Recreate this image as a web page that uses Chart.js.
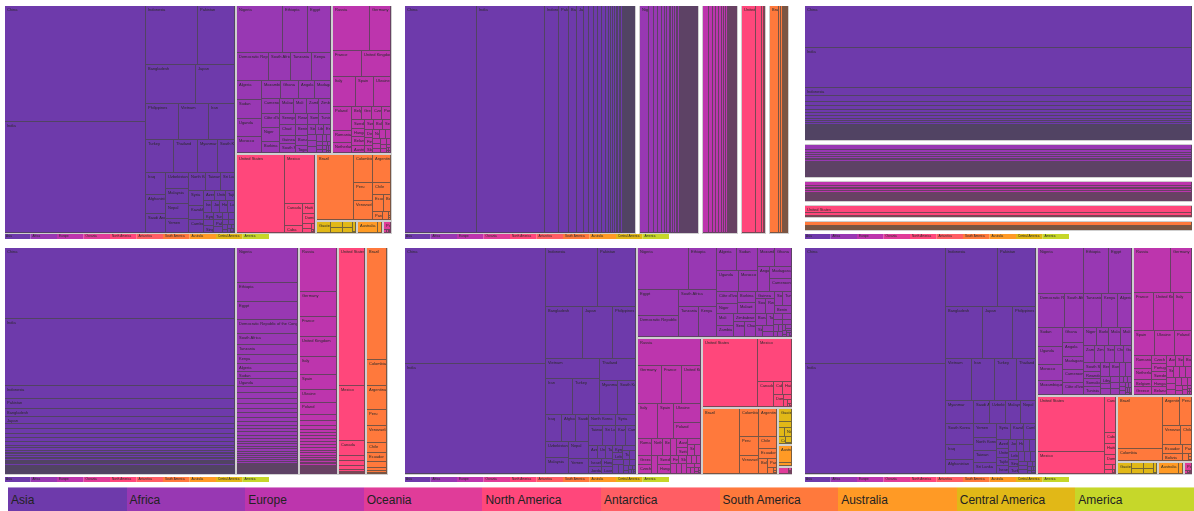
<!DOCTYPE html>
<html>
<head>
<meta charset="utf-8">
<title>Treemap tiling methods</title>
<script src="https://cdn.jsdelivr.net/npm/chart.js@4.4.1/dist/chart.umd.min.js"></script>
<style>
  body { margin: 0; background: #fff; width: 1194px; height: 511px; overflow: hidden; position: relative;
         font-family: "Liberation Sans", Arial, Helvetica, sans-serif; }
  canvas.panel { position: absolute; }
  #legend { position: absolute; left: 8px; top: 487px; width: 1186px; height: 26px; display: flex; }
  #legend div { flex: 1; font-size: 12px; line-height: 26px; padding-left: 3px; color: #222;
                box-shadow: inset 0 1px 0 rgba(255,255,255,0.45); }
</style>
</head>
<body>
<canvas id="p1" class="panel" width="387" height="235" style="left:5px;top:6px"></canvas>
<canvas id="p2" class="panel" width="387" height="235" style="left:405px;top:6px"></canvas>
<canvas id="p3" class="panel" width="387" height="235" style="left:805px;top:6px"></canvas>
<canvas id="p4" class="panel" width="386" height="236" style="left:5px;top:248px"></canvas>
<canvas id="p5" class="panel" width="387" height="236" style="left:405px;top:248px"></canvas>
<canvas id="p6" class="panel" width="387" height="236" style="left:805px;top:248px"></canvas>
<div id="legend"></div>
<script>
// continents (legend order)
const continents = ['Asia', 'Africa', 'Europe', 'Oceania', 'North America', 'Antarctica',
  'South America', 'Australia', 'Central America', 'America'];
const continentColors = ['#6e3aab', '#9838b3', '#bd35ad', '#e03c99', '#ff477b', '#ff5e64',
  '#ff793c', '#ff9a25', '#e1b817', '#c6d72a'];

// population, millions
const asiaCountries = ['China', 'India', 'Indonesia', 'Pakistan', 'Bangladesh', 'Japan', 'Philippines',
  'Vietnam', 'Iran', 'Turkey', 'Thailand', 'Myanmar', 'South Korea', 'Iraq', 'Afghanistan',
  'Saudi Arabia', 'Uzbekistan', 'Malaysia', 'Nepal', 'Yemen', 'North Korea', 'Taiwan', 'Sri Lanka',
  'Syria', 'Kazakhstan', 'Cambodia', 'Azerbaijan', 'United Arab Emirates', 'Tajikistan', 'Israel',
  'Jordan', 'Hong Kong', 'Laos', 'Kyrgyzstan', 'Lebanon', 'Singapore', 'Turkmenistan', 'Palestine',
  'Oman', 'Georgia', 'Kuwait', 'Mongolia', 'Armenia', 'Qatar', 'Bahrain', 'Timor-Leste', 'Cyprus',
  'Bhutan', 'Macau', 'Brunei', 'Maldives'];
const asiaPopulation = [1376, 1311, 258, 189, 161, 127, 101, 93, 79, 79, 68, 54, 50, 36, 33, 31, 30,
  30, 29, 27, 25, 23, 21, 19, 18, 16, 9.8, 9.2, 8.5, 8.1, 7.6, 7.3, 6.8, 6.0, 5.9, 5.6, 5.4, 4.7,
  4.5, 4.0, 3.9, 3.0, 3.0, 2.2, 1.4, 1.2, 1.2, 0.8, 0.6, 0.4, 0.4];

const africaCountries = ['Nigeria', 'Ethiopia', 'Egypt', 'Democratic Republic of the Congo',
  'South Africa', 'Tanzania', 'Kenya', 'Algeria', 'Sudan', 'Uganda', 'Morocco', 'Mozambique', 'Ghana',
  'Angola', 'Madagascar', 'Cameroon', "Côte d'Ivoire", 'Niger', 'Burkina Faso', 'Malawi', 'Mali',
  'Zambia', 'Zimbabwe', 'Senegal', 'Chad', 'Guinea', 'South Sudan', 'Rwanda', 'Somalia', 'Tunisia',
  'Benin', 'Burundi', 'Togo', 'Sierra Leone', 'Libya', 'Eritrea', 'Central African Republic', 'Congo',
  'Liberia', 'Mauritania', 'Namibia', 'Botswana', 'Lesotho', 'Gambia', 'Guinea-Bissau', 'Gabon',
  'Mauritius', 'Swaziland', 'Djibouti', 'Equatorial Guinea', 'Comoros', 'Cape Verde',
  'Sao Tome and Principe', 'Seychelles'];
const africaPopulation = [182, 99, 92, 77, 55, 53, 46, 40, 40, 39, 34, 28, 27, 25, 24, 23, 22, 20,
  18, 17, 17, 16, 15, 15, 14, 12, 12, 11, 11, 11, 11, 11, 7, 6.5, 6.3, 5.2, 4.9, 4.6, 4.5, 4.1, 2.5,
  2.3, 2.1, 2.0, 1.8, 1.7, 1.3, 1.3, 0.9, 0.85, 0.8, 0.5, 0.2, 0.1];

const europeCountries = ['Russia', 'Germany', 'France', 'United Kingdom', 'Italy', 'Spain', 'Ukraine',
  'Poland', 'Romania', 'Netherlands', 'Belgium', 'Greece', 'Czech Republic', 'Portugal', 'Sweden',
  'Hungary', 'Belarus', 'Austria', 'Switzerland', 'Bulgaria', 'Serbia', 'Denmark', 'Finland',
  'Slovakia', 'Norway', 'Ireland', 'Croatia', 'Bosnia and Herzegovina', 'Moldova', 'Albania',
  'Lithuania', 'Macedonia', 'Slovenia', 'Latvia', 'Estonia', 'Montenegro', 'Luxembourg', 'Malta',
  'Iceland'];
const europePopulation = [144, 81, 66, 65, 61, 46, 45, 38, 20, 17, 11, 11, 10.5, 10.4, 9.8, 9.8, 9.5,
  8.6, 8.3, 7.2, 7.1, 5.7, 5.5, 5.4, 5.2, 4.6, 4.2, 3.8, 3.5, 2.9, 2.9, 2.1, 2.1, 2.0, 1.3, 0.6,
  0.57, 0.43, 0.33];

const northAmericaCountries = ['United States', 'Mexico', 'Canada', 'Cuba', 'Haiti',
  'Dominican Republic', 'Puerto Rico', 'Jamaica', 'Trinidad and Tobago', 'Bahamas', 'Barbados',
  'Saint Lucia', 'Grenada'];
const northAmericaPopulation = [321, 127, 36, 11.4, 10.7, 10.5, 3.5, 2.8, 1.4, 0.39, 0.28, 0.18, 0.11];

const southAmericaCountries = ['Brazil', 'Colombia', 'Argentina', 'Peru', 'Venezuela', 'Chile',
  'Ecuador', 'Bolivia', 'Paraguay', 'Uruguay', 'Guyana', 'Suriname', 'French Guiana'];
const southAmericaPopulation = [206, 48, 43, 31, 31, 18, 16, 11, 6.6, 3.4, 0.77, 0.54, 0.27];

const centralAmericaCountries = ['Guatemala', 'Honduras', 'El Salvador', 'Nicaragua', 'Costa Rica',
  'Panama', 'Belize'];
const centralAmericaPopulation = [16.3, 8.1, 6.1, 6.1, 4.8, 3.9, 0.36];

const australiaCountries = ['Australia', 'New Zealand'];
const australiaPopulation = [23.8, 4.6];

const oceaniaCountries = ['Papua New Guinea', 'Fiji', 'Solomon Islands', 'Vanuatu', 'Samoa',
  'Kiribati', 'Tonga', 'Micronesia'];
const oceaniaPopulation = [7.6, 0.89, 0.58, 0.26, 0.19, 0.11, 0.1, 0.1];

const groupNames = ['Asia', 'Africa', 'Europe', 'North America', 'South America',
  'Central America', 'Australia', 'Oceania'];
const groupCountries = [asiaCountries, africaCountries, europeCountries, northAmericaCountries,
  southAmericaCountries, centralAmericaCountries, australiaCountries, oceaniaCountries];
const groupPopulation = [asiaPopulation, africaPopulation, europePopulation, northAmericaPopulation,
  southAmericaPopulation, centralAmericaPopulation, australiaPopulation, oceaniaPopulation];

function buildRoot() {
  const children = groupNames.map((name, i) => {
    const kids = groupCountries[i].map((c, j) => ({ name: c, value: groupPopulation[i][j] }))
      .sort((a, b) => b.value - a.value);
    return { name, children: kids, value: kids.reduce((s, k) => s + k.value, 0) };
  }).sort((a, b) => b.value - a.value);
  return { children, value: children.reduce((s, g) => s + g.value, 0) };
}

// --- tiling (same rules as d3-hierarchy) ---
function dice(node, x0, y0, x1, y1) {
  const k = node.value ? (x1 - x0) / node.value : 0;
  node.children.forEach(c => { c.y0 = y0; c.y1 = y1; c.x0 = x0; c.x1 = x0 += c.value * k; });
}
function slice(node, x0, y0, x1, y1) {
  const k = node.value ? (y1 - y0) / node.value : 0;
  node.children.forEach(c => { c.x0 = x0; c.x1 = x1; c.y0 = y0; c.y1 = y0 += c.value * k; });
}
function squarify(ratio) {
  return function (parent, x0, y0, x1, y1) {
    const nodes = parent.children, n = nodes.length;
    let i0 = 0, i1 = 0, value = parent.value;
    while (i0 < n) {
      const dx = x1 - x0, dy = y1 - y0;
      let sumValue, nodeValue;
      do sumValue = nodes[i1++].value; while (!sumValue && i1 < n);
      let minValue = sumValue, maxValue = sumValue;
      const alpha = Math.max(dy / dx, dx / dy) / (value * ratio);
      let beta = sumValue * sumValue * alpha;
      let minRatio = Math.max(maxValue / beta, beta / minValue);
      for (; i1 < n; ++i1) {
        sumValue += nodeValue = nodes[i1].value;
        if (nodeValue < minValue) minValue = nodeValue;
        if (nodeValue > maxValue) maxValue = nodeValue;
        beta = sumValue * sumValue * alpha;
        const newRatio = Math.max(maxValue / beta, beta / minValue);
        if (newRatio > minRatio) { sumValue -= nodeValue; break; }
        minRatio = newRatio;
      }
      const row = { value: sumValue, children: nodes.slice(i0, i1) };
      if (dx < dy) dice(row, x0, y0, x1, dy ? y0 += dy * sumValue / value : y1);
      else slice(row, x0, y0, dx ? x0 += dx * sumValue / value : x1, y1);
      value -= sumValue; i0 = i1;
    }
  };
}
function binary(parent, x0, y0, x1, y1) {
  const nodes = parent.children, n = nodes.length, sums = [0];
  if (!n) return;
  for (let i = 0; i < n; i++) sums.push(sums[i] + nodes[i].value);
  (function part(i, j, value, x0, y0, x1, y1) {
    if (i >= j - 1) { const c = nodes[i]; c.x0 = x0; c.y0 = y0; c.x1 = x1; c.y1 = y1; return; }
    const off = sums[i], target = value / 2 + off;
    let k = i + 1, hi = j - 1;
    while (k < hi) { const mid = (k + hi) >>> 1; if (sums[mid] < target) k = mid + 1; else hi = mid; }
    if ((target - sums[k - 1]) < (sums[k] - target) && i + 1 < k) --k;
    const vl = sums[k] - off, vr = value - vl;
    if ((x1 - x0) > (y1 - y0)) {
      const xk = value ? (x0 * vr + x1 * vl) / value : x1;
      part(i, k, vl, x0, y0, xk, y1); part(k, j, vr, xk, y0, x1, y1);
    } else {
      const yk = value ? (y0 * vr + y1 * vl) / value : y1;
      part(i, k, vl, x0, y0, x1, yk); part(k, j, vr, x0, yk, x1, y1);
    }
  })(0, n, parent.value, x0, y0, x1, y1);
}

function tileFor(name, ratio, depth) {
  if (name === 'squarify') return squarify(ratio);
  if (name === 'binary') return binary;
  if (name === 'dice') return dice;
  if (name === 'slice') return slice;
  return depth & 1 ? slice : dice; // sliceDice
}

function layout(root, W, H, opts) {
  const p = opts.padInner / 2;
  tileFor(opts.tile, opts.ratio, 0)(root, -p, -p, W + p, H + p);
  root.children.forEach(g => {
    g.x0 += p; g.y0 += p; g.x1 -= p; g.y1 -= p;
    if (g.x1 < g.x0) g.x0 = g.x1 = (g.x0 + g.x1) / 2;
    if (g.y1 < g.y0) g.y0 = g.y1 = (g.y0 + g.y1) / 2;
    tileFor(opts.tile, opts.ratio, 1)(g, g.x0, g.y0, g.x1, g.y1);
  });
  return root;
}

const lineColor = 'rgba(70,70,70,0.72)';

const treemapPlugin = {
  id: 'treemap',
  afterDatasetsDraw(chart, args, opts) {
    const { ctx, chartArea } = chart;
    const x = chart.scales.x, y = chart.scales.y;
    const root = layout(buildRoot(), x.max, y.max, opts);
    ctx.save();
    ctx.textBaseline = 'top';
    ctx.font = '4px Arial, sans-serif';
    root.children.forEach(g => {
      const color = continentColors[continents.indexOf(g.name)];
      const gx0 = Math.round(x.getPixelForValue(g.x0)), gx1 = Math.round(x.getPixelForValue(g.x1));
      const gy0 = Math.round(y.getPixelForValue(g.y0)), gy1 = Math.round(y.getPixelForValue(g.y1));
      if (gx1 - gx0 <= 0 || gy1 - gy0 <= 0) return;
      g.children.forEach(c => {
        const rx0 = Math.round(x.getPixelForValue(c.x0)), rx1 = Math.round(x.getPixelForValue(c.x1));
        const ry0 = Math.round(y.getPixelForValue(c.y0)), ry1 = Math.round(y.getPixelForValue(c.y1));
        const w = rx1 - rx0, h = ry1 - ry0;
        if (w <= 0 || h <= 0) return;
        ctx.fillStyle = color;
        ctx.fillRect(rx0, ry0, w, h);
        // cell separators on the right and bottom edges
        ctx.fillStyle = lineColor;
        ctx.fillRect(rx1 - 1, ry0, 1, h);
        if (w > 1) ctx.fillRect(rx0, ry1 - 1, w - 1, 1);
        if (w > 6 && h > 6) {
          ctx.save();
          ctx.beginPath();
          ctx.rect(rx0 + 1, ry0 + 1, w - 2, h - 2);
          ctx.clip();
          ctx.fillStyle = '#2a2a2a';
          ctx.fillText(c.name, rx0 + 2, ry0 + 2);
          ctx.restore();
        }
      });
      ctx.strokeStyle = '#cfcfcf';
      ctx.lineWidth = 1;
      ctx.strokeRect(gx0 - 0.5, gy0 - 0.5, gx1 - gx0 + 1, gy1 - gy0 + 1);
    });

    // small colour key under each panel
    const cellW = 26.5, top = chartArea.bottom + opts.keyGap;
    ctx.font = '3px Arial, sans-serif';
    continents.forEach((name, i) => {
      const left = chartArea.left - 1 + i * cellW;
      ctx.fillStyle = continentColors[i];
      ctx.fillRect(left, top, cellW, 5);
      ctx.fillStyle = '#2a2a2a';
      ctx.fillText(name, left + 2, top + 1);
    });
    ctx.restore();
  }
};

const panels = [
  { id: 'p1', w: 386, h: 227, tile: 'squarify', ratio: 1.25, padInner: 2, keyGap: 1 },
  { id: 'p2', w: 387, h: 227, tile: 'dice', ratio: 1, padInner: 5, keyGap: 1 },
  { id: 'p3', w: 387, h: 227, tile: 'slice', ratio: 1, padInner: 5, keyGap: 1 },
  { id: 'p4', w: 386, h: 226, tile: 'sliceDice', ratio: 1, padInner: 2, keyGap: 3 },
  { id: 'p5', w: 387, h: 226, tile: 'binary', ratio: 1, padInner: 2, keyGap: 3 },
  { id: 'p6', w: 387, h: 226, tile: 'squarify', ratio: (1 + Math.sqrt(5)) / 2, padInner: 2, keyGap: 3 }
];

panels.forEach(p => {
  const canvas = document.getElementById(p.id);
  new Chart(canvas, {
    type: 'scatter',
    data: { datasets: [] },
    options: {
      responsive: false,
      animation: false,
      events: [],
      layout: { padding: { left: 0, top: 0, right: canvas.width - p.w, bottom: canvas.height - p.h } },
      plugins: {
        legend: { display: false },
        tooltip: { enabled: false },
        treemap: { tile: p.tile, ratio: p.ratio, padInner: p.padInner, keyGap: p.keyGap }
      },
      scales: {
        x: { type: 'linear', display: false, min: 0, max: p.w },
        y: { type: 'linear', display: false, min: 0, max: p.h, reverse: true }
      }
    },
    plugins: [treemapPlugin]
  });
});

// big colour key
const legendEl = document.getElementById('legend');
continents.forEach((name, i) => {
  const d = document.createElement('div');
  d.style.background = continentColors[i];
  d.textContent = name;
  legendEl.appendChild(d);
});
</script>
</body>
</html>
